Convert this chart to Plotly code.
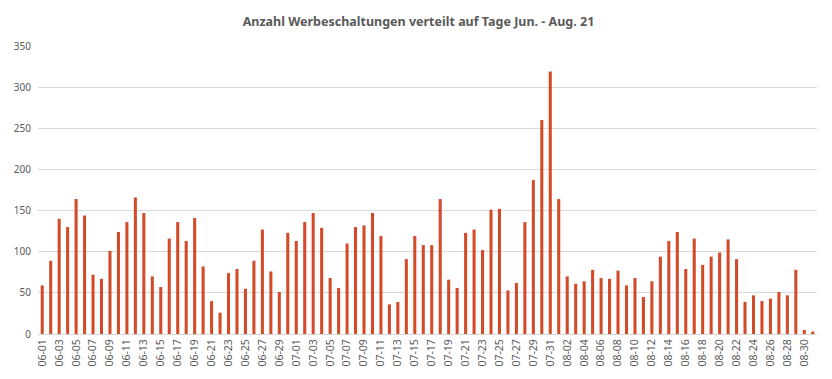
import plotly.graph_objects as go

days = [f"{m:02d}-{d:02d}" for m, n in ((6, 30), (7, 31), (8, 31)) for d in range(1, n + 1)]

counts = [
    # June
    59, 89, 140, 130, 164, 144, 72, 67, 101, 124,
    136, 166, 147, 70, 57, 116, 136, 113, 141, 82,
    40, 26, 74, 79, 55, 89, 127, 76, 51, 123,
    # July
    113, 136, 147, 129, 68, 56, 110, 130, 132, 147,
    119, 36, 39, 91, 119, 108, 108, 164, 66, 56,
    123, 127, 102, 151, 152, 53, 62, 136, 187, 260,
    319,
    # August
    164, 70, 61, 64, 78, 68, 67, 77, 59, 68,
    45, 64, 94, 113, 124, 79, 116, 84, 94, 99,
    115, 91, 39, 47, 40, 43, 51, 47, 78, 5,
    3,
]

tick_labels = days[::2]

title_text = "Anzahl Werbeschaltungen verteilt auf Tage Jun. - Aug. 21"

fig = go.Figure(
    go.Bar(
        x=days,
        y=counts,
        marker=dict(color="#D24A27", line=dict(width=0)),
    )
)

fig.update_layout(
    width=832,
    height=379,
    margin=dict(l=38, r=15, t=46, b=45),
    paper_bgcolor="white",
    plot_bgcolor="white",
    bargap=0.64,
    showlegend=False,
    title=dict(
        text=f"<b>{title_text}</b>",
        x=0.503,
        xanchor="center",
        y=0.942,
        yanchor="middle",
        font=dict(family="Noto Sans", size=12.5, color="#595959"),
    ),
    font=dict(family="Noto Sans", color="#595959"),
)

fig.update_xaxes(
    type="category",
    tickmode="array",
    tickvals=tick_labels,
    ticktext=tick_labels,
    tickangle=-90,
    tickfont=dict(size=10.5, color="#595959"),
    showgrid=False,
    showline=True,
    linecolor="#d9d9d9",
    linewidth=1,
    ticks="",
)

fig.update_yaxes(
    range=[0, 350],
    dtick=50,
    tickfont=dict(size=10, color="#595959"),
    showgrid=True,
    gridcolor="#d9d9d9",
    gridwidth=1,
    zeroline=False,
    showline=False,
    ticks="",
    ticklabelstandoff=6,
)

fig.write_html(
    "out.html",
    config={"displayModeBar": False},
    post_script="document.body.style.margin='0';document.body.style.overflow='hidden';",
)
